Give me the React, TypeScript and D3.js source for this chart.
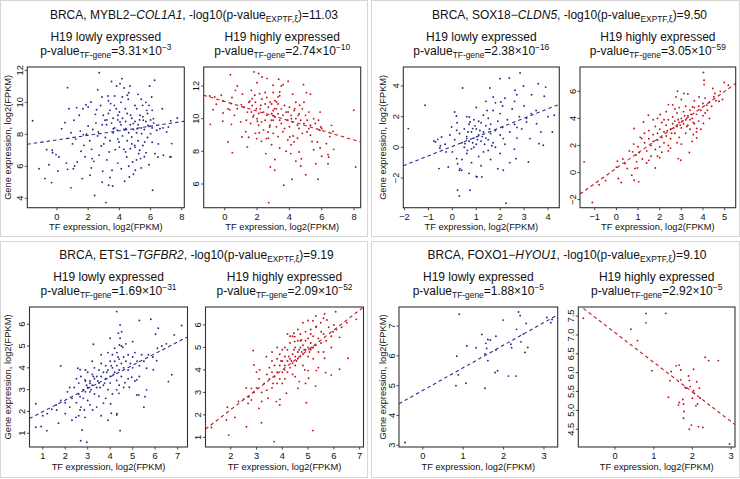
import React from "react";
import * as d3 from "d3";

type P = [number, number];

// ---------- data ----------
const mybl2Low: P[] = [
[-1.56,8.85],[-1.15,5.85],[-0.77,5.23],[-0.51,6.1],[-0.34,4.98],[-0.66,7.04],[-0.3,7.0],[-0.28,6.85],[-0.06,6.73],[0.13,6.58],
[0.06,5.71],[0.3,8.35],[0.51,8.73],[0.68,10.92],[0.68,5.81],[0.9,4.65],[0.77,9.6],[1.05,5.85],[1.13,6.02],[1.09,8.88],
[1.26,9.67],[1.3,6.27],[1.43,9.19],[1.54,6.94],[1.62,5.23],[1.67,9.6],[1.69,7.98],[1.73,7.31],[1.86,9.85],[2.0,8.52],
[2.0,9.71],[2.12,5.44],[2.18,10.02],[2.22,7.06],[2.26,6.48],[2.37,6.31],[2.41,4.17],[2.46,9.25],[2.54,9.54],[2.61,10.79],
[2.65,8.15],[2.71,11.85],[2.84,7.27],[2.88,10.33],[2.93,5.69],[2.97,9.19],[3.08,8.88],[3.14,3.73],[3.18,8.6],[3.27,10.4],
[3.31,4.81],[3.35,6.9],[3.4,9.5],[3.44,9.92],[3.53,5.75],[3.57,4.77],[3.61,8.35],[3.68,9.81],[3.74,7.04],[3.82,11.02],
[3.87,8.25],[3.91,9.19],[3.97,7.52],[4.04,11.17],[4.04,8.77],[4.12,5.85],[4.17,11.48],[4.19,10.33],[4.29,7.06],[4.34,5.06],
[4.38,9.6],[4.42,8.35],[4.47,6.58],[4.51,10.44],[4.57,10.19],[4.64,5.33],[4.68,11.02],[4.72,9.19],[4.79,7.83],[4.85,6.27],
[4.89,8.67],[4.98,7.31],[5.02,5.75],[5.11,9.6],[5.15,8.35],[5.24,6.79],[5.32,9.19],[5.36,6.48],[5.43,8.04],[5.49,9.81],
[5.53,8.88],[5.62,7.52],[5.71,6.85],[5.75,9.5],[5.83,8.56],[5.9,9.81],[5.94,11.02],[6.0,8.04],[6.07,10.33],[6.13,4.5],
[6.18,8.98],[6.26,11.38],[6.28,6.79],[6.39,8.25],[6.47,6.58],[6.6,8.35],[6.75,9.6],[6.82,6.69],[7.03,8.15],[7.14,8.46],
[7.24,6.58],[7.29,8.85],[7.35,7.42],[7.71,9.02],
[3.2,8.9],[3.3,9.3],[3.5,8.7],[3.6,9.0],[3.7,8.4],[3.8,9.6],[3.9,8.9],[4.0,9.4],[4.1,8.6],[4.2,9.0],
[4.3,8.3],[4.4,8.8],[4.5,9.3],[4.6,8.1],[4.7,8.6],[4.8,9.0],[4.9,8.3],[5.0,8.8],[5.1,8.1],[5.2,8.6],
[5.3,8.9],[5.4,8.4],[5.5,9.1],[5.6,8.3],[5.7,8.8],[5.8,9.3],[5.9,8.5],[6.0,8.9],[6.1,8.4],[6.2,8.7],
[3.1,7.8],[3.4,7.6],[3.6,8.1],[3.9,7.7],[4.2,7.9],[4.5,7.6],[4.8,7.4],[5.0,7.2],[5.2,7.6],[5.5,7.3],
[5.8,7.8],[6.1,7.5],[4.0,7.2],[4.4,6.9],[4.7,7.1],[5.3,7.0],[5.6,6.6],[3.0,7.4],[2.6,7.9],[2.9,8.6],
[2.3,8.3],[2.1,7.6],[1.9,8.0],[2.5,8.7],[3.3,10.1],[3.7,10.4],[4.1,10.0],[4.6,10.6],[5.0,9.8],[5.4,10.2],
[5.7,10.0],[6.1,9.5],[3.5,11.3],[4.3,10.9],[5.2,10.5],[2.8,9.8],[1.5,8.2],[1.2,7.7],[0.9,8.1],[2.7,6.7],
[3.2,6.4],[3.9,6.2],[4.6,6.0],[5.1,6.4],[5.9,6.1],[6.5,7.4],[6.8,8.4],[7.3,6.6],[1.8,6.6],[1.0,7.4],
[0.6,6.2],[2.2,5.9],[4.9,5.5],[3.4,5.3],[2.9,5.0],[5.4,5.9]
];

const mybl2High: P[] = [
[0.35,12.69],[1.81,12.86],[2.1,12.76],[2.31,12.55],[2.62,12.45],[3.34,12.41],[2.99,12.04],[3.61,12.08],[3.92,12.29],[4.87,12.08],
[0.78,12.0],[0.66,11.73],[2.0,12.2],[1.65,11.73],[5.05,11.59],[-0.21,11.43],[-0.62,11.33],[-0.93,11.39],[-0.12,11.08],[-0.52,10.88],
[-0.72,10.55],[-0.89,9.65],[-0.12,9.84],[-0.1,10.35],[0.45,11.29],[0.41,10.92],[0.31,10.55],[0.41,9.65],[0.21,8.57],[0.47,7.92],
[0.78,10.61],[1.03,10.86],[0.99,9.8],[1.07,8.88],[1.34,9.9],[1.4,8.27],[1.48,8.86],[1.55,11.06],[1.69,11.22],[1.86,11.43],
[2.16,11.53],[1.65,10.41],[1.75,10.1],[1.96,10.61],[2.1,10.31],[2.23,10.82],[2.02,9.84],[2.14,9.14],[2.27,9.8],[1.98,8.78],
[2.27,8.61],[2.54,7.86],[2.82,7.04],[3.09,6.84],[2.72,4.86],[3.65,5.92],[4.16,6.29],[4.08,7.86],[4.02,8.88],[4.23,8.94],
[4.29,8.57],[4.6,7.96],[4.74,7.55],[4.7,7.1],[5.01,6.57],[5.09,9.18],[5.2,9.39],[5.3,8.98],[5.63,7.24],[5.77,6.29],
[5.73,8.57],[5.88,9.29],[5.94,9.49],[6.29,8.47],[6.39,7.8],[6.39,7.24],[6.43,7.65],[6.6,9.59],[6.7,9.22],[6.74,8.12],
[7.98,10.51],[8.1,7.04],
[2.58,8.78],[2.68,9.18],[2.78,9.49],[2.89,9.9],[2.99,10.2],[3.09,10.61],[3.2,11.02],[3.3,11.33],[3.4,11.63],
[3.92,10.41],[4.12,10.0],[4.33,10.61],[4.54,10.2],[4.64,10.82],
[1.2,10.7],[1.4,10.4],[1.5,11.0],[1.7,10.8],[1.8,10.2],[1.9,11.0],[2.0,10.0],[2.2,10.6],[2.3,11.2],[2.4,10.4],
[2.5,10.9],[2.5,9.9],[2.6,11.3],[2.6,10.2],[2.7,10.7],[2.8,9.6],[2.8,11.0],[2.9,10.3],[2.9,10.9],[3.0,9.9],
[3.0,10.5],[3.1,11.1],[3.1,10.1],[3.2,10.6],[3.2,9.5],[3.3,10.9],[3.3,10.3],[3.4,9.9],[3.4,11.4],[3.5,10.6],
[3.5,9.7],[3.6,10.2],[3.7,10.8],[3.7,9.4],[3.8,10.4],[3.9,9.9],[4.0,10.7],[4.0,9.5],[4.1,10.2],[4.2,9.8],
[4.3,10.5],[4.4,10.0],[4.5,9.6],[4.6,10.3],[4.7,9.9],[4.8,10.6],[4.9,9.7],[5.0,10.2],[5.1,9.9],[5.2,10.4],
[5.3,9.6],[5.5,10.0],[5.6,9.7],[5.8,9.9],[6.0,9.4],[3.0,9.1],[3.3,8.9],[3.6,9.2],[3.9,8.7],[2.4,9.3],
[2.1,9.6],[1.6,9.7],[2.9,8.4],[3.4,8.2],[3.8,8.0],[4.5,8.8],[4.8,9.1],[5.4,8.6],[5.9,8.2],[6.5,8.9],
[2.5,11.6],[3.0,11.6],[3.5,12.0],[4.2,11.5],[4.4,11.0],[4.9,11.0],[5.3,11.5],[1.1,11.5],[0.6,10.2],[0.2,10.6],
[1.3,9.2],[4.1,8.4],[4.4,7.4],[5.5,8.1],[6.0,7.7],[3.1,7.5],[2.7,8.8],[4.6,9.4],[5.9,10.4],[1.9,9.1]
];

const sox18Low: P[] = [
[-1.84,1.22],[-1.14,2.74],[-0.77,0.41],[-0.7,0.35],[-0.61,0.52],[-0.56,-1.39],[-0.52,-0.04],[-0.45,0.67],[-0.26,-0.3],[-0.17,-1.28],
[-0.03,1.33],[0.1,2.3],[0.17,2.04],[0.18,1.11],[0.18,-0.74],[0.22,-1.07],[0.22,-2.8],[0.29,-3.17],[0.43,3.87],[0.32,-1.39],
[0.39,-1.5],[0.53,0.24],[0.6,0.57],[0.63,-0.2],[0.71,1.98],[0.74,1.65],[0.85,1.22],[0.74,-2.8],[1.03,-1.93],[1.23,-1.93],
[1.57,3.87],[1.71,3.28],[1.99,4.48],[2.03,2.96],[2.13,-1.5],[2.24,-3.65],[2.38,4.52],[2.62,3.72],[2.69,3.43],[2.83,4.85],
[2.97,4.0],[3.18,-0.96],[3.25,0.57],[3.31,3.43],[3.59,4.15],[3.62,0.24],[3.8,0.13],[3.84,3.33],[3.9,3.93],[4.18,1.0],
[4.26,2.09],[3.52,1.54],[3.1,1.65],[2.66,-0.74],[2.59,-0.13],[2.13,0.57],
[0.3,0.9],[0.4,0.3],[0.5,1.2],[0.5,0.0],[0.6,0.7],[0.6,-0.4],[0.7,1.5],[0.7,0.4],[0.8,1.0],[0.8,-0.1],
[0.9,0.6],[0.9,1.8],[1.0,0.2],[1.0,1.2],[1.1,0.8],[1.1,-0.6],[1.2,1.6],[1.2,0.4],[1.3,1.0],[1.3,2.1],
[1.4,0.6],[1.4,1.4],[1.5,-0.2],[1.5,1.9],[1.6,0.9],[1.6,1.5],[1.7,0.3],[1.7,2.4],[1.8,1.1],[1.8,0.0],
[1.9,1.7],[2.0,0.8],[2.0,2.2],[2.1,1.3],[2.2,0.2],[2.3,1.8],[2.4,1.0],[2.5,2.5],[2.6,1.5],[2.7,0.6],
[2.8,2.0],[2.9,1.2],[3.0,2.7],[3.1,1.9],[0.1,0.5],[0.0,-0.3],[-0.1,0.8],[-0.3,0.2],[-0.5,0.1],[0.2,1.6],
[0.4,-0.8],[0.8,-1.0],[1.2,-1.2],[1.0,2.6],[1.4,3.0],[1.8,2.9],[2.2,3.2],[2.6,3.0],[3.3,2.2],[3.5,2.4],
[1.5,0.5],[1.1,1.7],[0.9,0.0],[1.3,-0.3],[1.6,-0.8],[2.0,-0.4],[2.4,-1.0],[0.6,2.0],[0.3,-1.5],[1.9,-1.4],
[2.7,1.3],[3.7,1.0],[4.0,2.0],[2.1,2.7],[0.7,-1.7],[1.0,-1.9],
[1.15,1.1],[1.35,0.2],[1.45,2.4],[1.05,0.5],[0.95,1.4],[1.25,0.7],[1.55,1.2],[1.65,0.1],[0.85,0.3],[0.65,1.0]
];

const sox18High: P[] = [
[-1.49,0.79],[-1.11,-2.22],[0.09,-0.44],[0.22,-0.74],[0.05,0.84],[0.4,0.67],[0.71,-0.2],[0.82,-0.57],[1.03,-0.69],[0.86,0.3],
[0.94,0.79],[0.97,0.34],[0.75,1.53],[1.06,1.48],[1.17,2.51],[1.25,3.74],[1.48,4.24],[0.82,3.25],[1.8,0.34],[2.02,4.29],
[2.4,5.02],[2.75,5.59],[2.82,6.01],[3.12,5.84],[2.86,1.03],[2.97,0.91],[3.37,1.48],[3.55,2.81],[3.71,2.56],[4.02,7.39],
[4.05,6.82],[4.05,6.5],[4.45,6.21],[4.55,5.84],[4.74,5.27],[4.98,6.65],[5.17,6.45],[3.82,5.59],[4.17,4.98],[4.02,3.62],
[3.52,4.85],[3.71,3.25],
[1.3,2.2],[1.4,1.6],[1.5,2.5],[1.5,3.1],[1.6,2.0],[1.6,1.2],[1.7,2.8],[1.7,2.3],[1.8,1.7],[1.8,3.4],
[1.9,2.4],[1.9,2.9],[2.0,1.9],[2.0,3.2],[2.1,2.6],[2.1,3.7],[2.2,2.2],[2.2,3.0],[2.3,3.5],[2.3,2.7],
[2.4,1.6],[2.4,3.9],[2.5,3.2],[2.5,2.5],[2.6,3.6],[2.6,4.1],[2.7,2.9],[2.7,3.8],[2.8,3.4],[2.8,4.4],
[2.9,3.7],[2.9,2.6],[3.0,4.0],[3.0,3.3],[3.1,4.5],[3.1,3.6],[3.2,3.9],[3.2,2.9],[3.3,4.2],[3.3,3.5],
[3.4,4.6],[3.4,3.2],[3.5,4.0],[3.6,3.6],[3.6,4.8],[3.7,4.3],[3.8,3.8],[3.9,4.6],[4.0,5.1],[4.0,4.2],
[4.1,5.5],[4.2,4.6],[4.3,5.2],[4.4,4.9],[4.5,5.6],[4.6,5.3],[4.8,6.0],[4.9,5.4],[1.0,1.9],[1.2,1.0],
[1.1,2.6],[0.9,1.3],[0.8,2.1],[0.5,0.3],[0.3,1.0],[0.0,0.4],[-0.5,-0.6],[-0.8,-0.9],[0.6,1.6],[1.4,0.7],
[2.0,1.1],[2.5,1.8],[3.0,2.1],[3.5,2.3],[1.9,4.0],[2.3,4.5],[2.6,5.0],[3.0,5.4],[3.3,5.8],[3.6,5.3],
[2.9,4.8],[2.4,2.0],[2.8,2.2],[3.9,3.2],[4.3,4.0],[1.7,3.9],[2.1,1.5],[3.2,4.9],[3.7,3.0],[2.7,4.7],
[2.2,3.9],[3.4,3.9],[3.8,4.9],[4.1,4.4],[1.3,2.9],[1.5,0.9],[1.9,1.2],
[2.65,3.3],[2.85,3.9],[3.05,3.8],[3.25,3.4],[3.45,4.3],[2.55,2.9],[2.35,3.1],[3.15,4.2],[3.55,3.7],[2.95,3.5]
];

const ets1Low: P[] = [
[0.69,2.35],[0.69,1.28],[0.93,1.31],[1.18,1.12],[1.7,1.46],[1.8,4.09],[1.62,2.07],[2.48,1.73],[2.66,2.68],[2.75,1.15],
[2.66,2.07],[2.69,0.66],[2.96,0.59],[2.88,1.73],[3.25,5.08],[3.22,2.07],[4.05,1.92],[4.29,1.84],[4.44,1.12],[4.29,6.58],
[4.36,5.59],[4.51,5.66],[4.44,5.36],[4.0,5.36],[4.56,4.94],[4.41,5.05],[5.3,6.17],[5.81,6.23],[6.02,5.54],[6.14,5.82],
[6.85,5.51],[7.18,5.94],[5.55,2.68],[5.5,2.19],[5.62,2.99],[5.18,2.76],[5.27,2.76],[5.62,3.98],[5.92,3.91],[6.07,4.33],
[6.59,3.37],[6.74,3.68],[4.66,3.32],[4.85,3.11],[4.29,2.99],[4.39,2.83],[4.96,3.57],[4.29,3.42],[5.18,3.45],[3.7,2.38],
[4.02,2.35],[2.85,2.07],[3.1,3.29],[2.88,3.45],[2.56,3.98],[2.66,3.91],[4.44,5.97],
[2.0,2.4],[2.1,2.9],[2.2,2.2],[2.3,2.6],[2.4,3.1],[2.5,2.4],[2.6,2.8],[2.6,3.3],[2.7,2.2],[2.7,3.6],
[2.8,3.0],[2.8,2.6],[2.9,3.4],[2.9,2.9],[3.0,3.1],[3.0,3.8],[3.0,2.5],[3.1,3.4],[3.1,2.9],[3.2,3.2],
[3.2,3.7],[3.3,2.8],[3.3,3.5],[3.3,4.0],[3.4,3.1],[3.4,3.6],[3.5,3.3],[3.5,3.9],[3.5,2.7],[3.6,3.6],
[3.6,4.2],[3.7,3.2],[3.7,3.8],[3.8,3.5],[3.8,4.1],[3.9,3.9],[3.9,3.0],[4.0,4.3],[4.0,3.6],[4.1,4.0],
[4.1,4.6],[4.2,3.8],[4.2,4.3],[4.3,4.1],[4.3,4.7],[4.4,3.9],[4.4,4.4],[4.5,4.2],[4.5,3.6],[4.6,4.5],
[4.6,4.0],[4.7,4.3],[4.8,4.6],[4.8,3.9],[4.9,4.2],[5.0,4.5],[5.0,4.0],[5.1,4.7],[5.2,4.3],[5.3,4.1],
[5.4,4.6],[5.5,4.3],[5.7,4.6],[5.9,4.5],[6.1,4.9],[6.3,5.0],[6.5,5.1],[3.9,4.7],[4.2,4.9],[4.5,5.0],
[4.7,5.1],[5.0,5.2],[3.6,4.6],[3.2,4.3],[2.9,3.9],[2.5,3.5],[2.2,3.1],[1.8,2.5],[1.6,2.3],[1.4,2.1],
[1.2,1.9],[1.0,1.8],[2.0,1.9],[2.3,1.6],[3.1,2.3],[3.4,2.2],[3.8,2.6],[4.1,2.8],[4.4,3.2],[4.8,3.5],
[5.3,3.6],[4.3,1.9],[3.6,1.8],[4.0,3.3],[4.6,3.1],[5.1,3.4],[2.6,1.8],[3.9,1.6],
[3.15,3.0],[3.45,3.4],[3.75,3.3],[4.15,3.7],[4.35,4.5],[3.25,3.6],[3.55,3.1],[3.85,3.8],[4.05,4.1],[2.95,3.2]
];

const ets1High: P[] = [
[1.25,1.44],[1.83,1.77],[1.87,2.34],[1.92,1.1],[2.16,1.89],[2.61,1.47],[2.67,2.51],[2.8,2.66],[2.8,3.18],[2.87,4.86],
[2.9,4.22],[3.09,2.29],[3.12,4.0],[3.19,1.65],[3.38,4.59],[3.45,2.74],[3.68,0.81],[3.64,3.4],[3.77,2.59],[3.9,2.44],
[3.91,2.69],[4.09,4.0],[4.16,2.96],[4.48,5.48],[4.45,5.63],[4.61,3.18],[4.66,3.48],[4.93,2.54],[4.87,4.0],[5.0,3.97],
[5.02,3.63],[5.19,1.3],[5.29,3.28],[5.32,3.97],[5.19,6.19],[5.32,5.93],[5.49,6.1],[5.64,6.49],[5.64,4.52],[5.68,3.88],
[5.73,6.22],[5.9,3.77],[6.07,6.59],[6.22,5.45],[6.22,4.03],[6.55,4.52],[6.87,6.25],[5.97,5.7],[5.51,5.7],[4.74,5.33],
[4.48,5.26],
[3.4,3.8],[3.5,4.1],[3.5,3.6],[3.6,3.9],[3.6,4.4],[3.7,3.7],[3.7,4.2],[3.8,4.5],[3.8,3.9],[3.9,4.2],
[3.9,4.7],[3.9,3.6],[4.0,4.4],[4.0,3.9],[4.0,4.9],[4.1,4.2],[4.1,4.6],[4.2,4.4],[4.2,3.9],[4.2,4.9],
[4.3,4.5],[4.3,4.1],[4.3,5.2],[4.4,4.7],[4.4,4.3],[4.4,5.5],[4.5,4.6],[4.5,5.0],[4.5,4.2],[4.6,4.8],
[4.6,5.3],[4.6,4.5],[4.7,5.0],[4.7,4.6],[4.7,5.6],[4.8,5.1],[4.8,4.7],[4.9,5.3],[4.9,4.9],[4.9,5.7],
[5.0,5.0],[5.0,5.4],[5.0,4.6],[5.1,5.2],[5.1,5.8],[5.1,4.9],[5.2,5.0],[5.2,5.5],[5.3,5.1],[5.3,5.9],
[5.4,5.4],[5.4,4.8],[5.5,5.2],[5.6,5.6],[5.7,5.3],[5.8,5.9],[5.9,5.5],[6.0,6.0],[6.1,5.8],[3.0,3.2],
[3.1,3.6],[3.2,3.0],[3.3,3.4],[2.9,3.0],[2.7,2.8],[2.5,2.7],[2.3,2.6],[3.4,3.1],[3.8,3.4],[4.1,3.6],
[4.4,3.8],[4.8,4.2],[5.2,4.5],[5.6,4.8],[5.9,5.0],[6.3,5.9],[6.5,6.1],[4.1,5.0],[4.3,5.5],[4.6,5.8],
[4.8,6.1],[5.0,6.2],[5.3,6.4],[5.6,6.3],[3.8,5.0],[3.6,4.8],[4.0,3.4],[4.5,3.7],[4.9,3.4],[5.4,4.1],
[3.2,2.6],[3.6,3.2],[2.6,3.2],[3.0,3.9],[4.2,5.6],[4.7,5.3],[5.1,5.6],
[4.35,4.4],[4.55,4.4],[4.85,4.9],[5.05,4.8],[4.25,4.6],[4.65,4.9],[5.15,5.0],[3.95,4.4],[4.45,4.9],[4.75,4.8]
];

const foxo1Low: P[] = [
[-0.44,3.09],[0.9,7.4],[0.82,5.0],[0.84,5.99],[0.88,5.36],[1.07,5.08],[1.09,6.33],[1.32,6.27],[1.46,6.72],[1.54,6.06],
[1.56,6.42],[1.54,4.91],[1.58,6.25],[1.61,6.55],[1.61,5.84],[1.67,6.53],[1.79,5.44],[1.81,6.66],[1.81,6.2],[1.85,5.5],
[1.99,7.2],[2.12,5.32],[2.18,6.39],[2.2,6.27],[2.31,5.32],[2.32,6.89],[2.37,7.47],[2.41,7.35],[2.43,6.47],[2.49,6.73],
[2.53,6.11],[2.56,7.09],[2.6,6.28],[3.07,7.29],[3.17,7.11],[3.2,7.22]
];

const foxo1High: P[] = [
[-0.82,7.44],[0.8,7.57],[0.41,7.15],[0.8,7.32],[0.58,6.85],[0.95,6.05],[1.31,7.57],[1.38,5.35],[1.42,5.79],[1.45,6.03],
[1.58,6.18],[1.66,6.2],[1.64,5.14],[1.66,5.21],[1.7,6.07],[1.7,5.81],[1.75,5.29],[1.77,5.17],[1.78,4.97],[1.77,4.79],
[1.81,5.61],[1.84,5.59],[1.9,5.91],[1.92,5.79],[1.94,5.63],[1.92,4.5],[1.97,4.61],[2.0,5.32],[2.03,5.52],[2.03,6.09],
[2.05,5.45],[2.09,5.12],[2.13,5.17],[2.11,5.76],[2.18,5.59],[2.2,5.32],[2.16,4.57],[2.27,4.55],[2.33,6.41],[2.42,6.32],
[2.67,6.32],[2.96,4.11]
];

// fitted lines: [intercept, slope]
const mybl2LowFit = [7.65, 0.143];
const mybl2HighFit = [11.05, -0.295];
const sox18LowFit = [0.06, 0.614];
const sox18HighFit = [0.32, 1.136];
const ets1LowFit = [1.455, 0.533];
const ets1HighFit = [0.46, 0.886];
const foxo1LowFit = [4.84, 0.76];
const foxo1HighFit = [7.06, -0.786];

// tick values
const mybl2LowXTicks = [0, 2, 4, 6, 8];
const mybl2LowYTicks = [4, 6, 8, 10, 12];
const mybl2HighXTicks = [0, 2, 4, 6, 8];
const mybl2HighYTicks = [6, 8, 10, 12];
const sox18LowXTicks = [-2, -1, 0, 1, 2, 3, 4];
const sox18LowYTicks = [-2, 0, 2, 4];
const sox18HighXTicks = [-1, 0, 1, 2, 3, 4, 5];
const sox18HighYTicks = [-2, 0, 2, 4, 6];
const ets1LowXTicks = [1, 2, 3, 4, 5, 6, 7];
const ets1LowYTicks = [1, 2, 3, 4, 5, 6];
const ets1HighXTicks = [2, 3, 4, 5, 6, 7];
const ets1HighYTicks = [1, 2, 3, 4, 5, 6];
const foxo1LowXTicks = [0, 1, 2, 3];
const foxo1LowYTicks = [3, 4, 5, 6, 7];
const foxo1HighXTicks = [0, 1, 2, 3];
const foxo1HighYTicks = [4.5, 5.0, 5.5, 6.0, 6.5, 7.0, 7.5];

// titles
const tfNames = ["MYBL2", "SOX18", "ETS1", "FOXO1"];
const geneNames = ["COL1A1", "CLDN5", "TGFBR2", "HYOU1"];
const scores = ["11.03", "9.50", "9.19", "9.10"];
const lowP = [["3.31", "−3"], ["2.38", "−16"], ["1.69", "−31"], ["1.88", "−5"]];
const highP = [["2.74", "−10"], ["3.05", "−59"], ["2.09", "−52"], ["2.92", "−5"]];

// ---------- layout ----------
const BLUE = "#2b2b8e";
const RED = "#c2161d";
const FONT = "'Liberation Sans', Arial, Helvetica, sans-serif";

type Frame = {
  id: string; x0: number; x1: number; y0: number; y1: number;
  xd: [number, number]; yd: [number, number];
  xt: number[]; yt: number[]; data: P[]; fit: number[]; color: string;
  yTitleX?: number; yfmt?: (v: number) => string;
};

const minus = (v: number) => String(v).replace("-", "−");

const frames: Frame[] = [
  { id: "a", x0: 27.3, x1: 184.3, y0: 67, y1: 207.7, xd: [-1.9, 8.16], yd: [3.41, 12.21], xt: mybl2LowXTicks, yt: mybl2LowYTicks, data: mybl2Low, fit: mybl2LowFit, color: BLUE, yTitleX: 10.5 },
  { id: "b", x0: 203.7, x1: 360.7, y0: 67, y1: 207.7, xd: [-1.3, 8.41], yd: [4.55, 13.16], xt: mybl2HighXTicks, yt: mybl2HighYTicks, data: mybl2High, fit: mybl2HighFit, color: RED },
  { id: "c", x0: 403.3, x1: 559.3, y0: 67, y1: 207.7, xd: [-2.05, 4.47], yd: [-3.94, 5.24], xt: sox18LowXTicks, yt: sox18LowYTicks, data: sox18Low, fit: sox18LowFit, color: BLUE, yTitleX: 386 },
  { id: "d", x0: 580, x1: 735.7, y0: 67, y1: 207.7, xd: [-1.68, 5.51], yd: [-2.6, 7.8], xt: sox18HighXTicks, yt: sox18HighYTicks, data: sox18High, fit: sox18HighFit, color: RED },
  { id: "e", x0: 29.5, x1: 187.5, y0: 307, y1: 447, xd: [0.41, 7.44], yd: [0.37, 6.79], xt: ets1LowXTicks, yt: ets1LowYTicks, data: ets1Low, fit: ets1LowFit, color: BLUE, yTitleX: 10.5 },
  { id: "f", x0: 205.5, x1: 363.5, y0: 307, y1: 447, xd: [1.02, 7.15], yd: [0.57, 6.8], xt: ets1HighXTicks, yt: ets1HighYTicks, data: ets1High, fit: ets1HighFit, color: RED },
  { id: "g", x0: 399, x1: 557.7, y0: 307, y1: 447, xd: [-0.59, 3.34], yd: [2.94, 7.64], xt: foxo1LowXTicks, yt: foxo1LowYTicks, data: foxo1Low, fit: foxo1LowFit, color: BLUE, yTitleX: 386 },
  { id: "h", x0: 578.3, x1: 735, y0: 307, y1: 447, xd: [-0.95, 3.1], yd: [4.03, 7.74], xt: foxo1HighXTicks, yt: foxo1HighYTicks, data: foxo1High, fit: foxo1HighFit, color: RED, yfmt: (v) => v.toFixed(1) },
];

function Scatter({ f }: { f: Frame }) {
  const x = d3.scaleLinear().domain(f.xd).range([f.x0, f.x1]);
  const y = d3.scaleLinear().domain(f.yd).range([f.y1, f.y0]);
  const line = d3.line<number>().x((v) => x(v)).y((v) => y(f.fit[0] + f.fit[1] * v));
  const yfmt = f.yfmt || minus;
  const cy = (f.y0 + f.y1) / 2;
  const cx = (f.x0 + f.x1) / 2;
  return (
    <g>
      <defs>
        <clipPath id={"clip-" + f.id}>
          <rect x={f.x0} y={f.y0} width={f.x1 - f.x0} height={f.y1 - f.y0} />
        </clipPath>
      </defs>
      <g clipPath={`url(#clip-${f.id})`}>
        <path d={line(f.xd) || ""} fill="none" stroke={f.color} strokeWidth={1.1} strokeDasharray="3.5,3" />
        {f.data.map((p, i) => (
          <circle key={i} cx={x(p[0])} cy={y(p[1])} r={0.95} fill={f.color} />
        ))}
      </g>
      <rect x={f.x0} y={f.y0} width={f.x1 - f.x0} height={f.y1 - f.y0} fill="none" stroke="#333" strokeWidth={1.1} />
      {f.xt.map((t) => (
        <g key={"x" + t}>
          <line x1={x(t)} x2={x(t)} y1={f.y1} y2={f.y1 + 2.5} stroke="#333" strokeWidth={0.9} />
          <text x={x(t)} y={f.y1 + 12.3} textAnchor="middle" fontSize={9.3}>{minus(t)}</text>
        </g>
      ))}
      {f.yt.map((t) => (
        <g key={"y" + t}>
          <line x1={f.x0} x2={f.x0 - 2.5} y1={y(t)} y2={y(t)} stroke="#333" strokeWidth={0.9} />
          <text transform={`translate(${f.x0 - 4.5},${y(t)}) rotate(-90)`} textAnchor="middle" fontSize={9.3}>{yfmt(t)}</text>
        </g>
      ))}
      <text x={cx} y={f.y1 + 22.5} textAnchor="middle" fontSize={9.3}>TF expression, log2(FPKM)</text>
      {f.yTitleX !== undefined && (
        <text transform={`translate(${f.yTitleX},${cy}) rotate(-90)`} textAnchor="middle" fontSize={9.3}>Gene expression, log2(FPKM)</text>
      )}
    </g>
  );
}

function Titles({ q }: { q: number }) {
  const left = frames[q * 2];
  const right = frames[q * 2 + 1];
  const oy = q >= 2 ? 240 : 0;
  const cx = (left.x0 + right.x1) / 2;
  const lc = (left.x0 + left.x1) / 2;
  const rc = (right.x0 + right.x1) / 2;
  const sub = (cxp: number, p: string[]) => (
    <text x={cxp} y={oy + 55} textAnchor="middle" fontSize={12}>
      p-value<tspan fontSize={8.4} dy={3}>TF-gene</tspan>
      <tspan dy={-3}>={p[0]}×10</tspan>
      <tspan fontSize={8.4} dy={-5}>{p[1]}</tspan>
    </text>
  );
  return (
    <g>
      <text x={cx} y={oy + 19} textAnchor="middle" fontSize={12}>
        BRCA, {tfNames[q]}−<tspan fontStyle="italic">{geneNames[q]}</tspan>, -log10(p-value
        <tspan fontSize={8.4} dy={3}>EXPTF,ξ</tspan>
        <tspan dy={-3}>)={scores[q]}</tspan>
      </text>
      <text x={lc} y={oy + 41} textAnchor="middle" fontSize={12}>H19 lowly expressed</text>
      <text x={rc} y={oy + 41} textAnchor="middle" fontSize={12}>H19 highly expressed</text>
      {sub(lc, lowP[q])}
      {sub(rc, highP[q])}
    </g>
  );
}

export default function App() {
  return (
    <svg width={740} height={479} viewBox="0 0 740 479"
      style={{ position: "absolute", left: 0, top: 0, background: "#fff" }}
      fontFamily={FONT} fill="#111">
      <rect x={0} y={0} width={740} height={479} fill="#fff" />
      {[[0.5, 0.5], [371.5, 0.5], [0.5, 241.5], [371.5, 241.5]].map(([qx, qy], i) => (
        <rect key={i} x={qx} y={qy} width={i % 2 === 0 ? 367 : 368} height={236} fill="none" stroke="#d6d6d6" strokeWidth={1} />
      ))}
      {[0, 1, 2, 3].map((q) => <Titles key={q} q={q} />)}
      {frames.map((f) => <Scatter key={f.id} f={f} />)}
    </svg>
  );
}
